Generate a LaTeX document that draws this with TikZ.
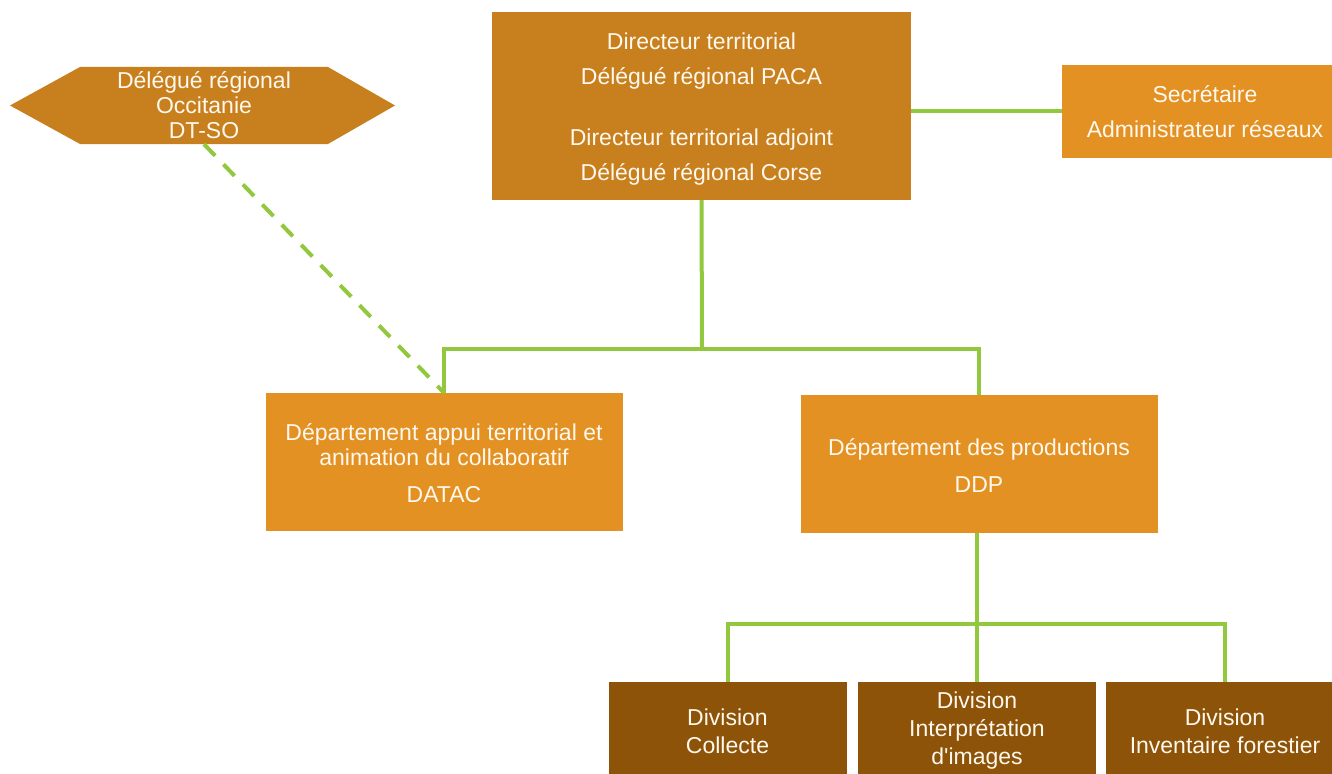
\documentclass[tikz,border=0pt]{standalone}
\usepackage{fontspec}
\setmainfont{Liberation Sans}
\usetikzlibrary{calc}
\definecolor{topbrown}{HTML}{C8801F}
\definecolor{deptorange}{HTML}{E39122}
\definecolor{divbrown}{HTML}{8D5308}
\definecolor{linkgreen}{HTML}{92C83E}
\definecolor{txtwhite}{HTML}{FFF8EE}
\tikzset{
  box/.style={rectangle, inner sep=0pt, align=center, text=txtwhite},
  dirbox/.style={box, fill=topbrown, minimum width=419pt, minimum height=188pt, font=\fontsize{23}{35}\selectfont},
  secbox/.style={box, fill=deptorange, minimum width=286pt, minimum height=93pt, font=\fontsize{23}{35}\selectfont},
  deptbox/.style={box, fill=deptorange, minimum width=357pt, minimum height=138pt},
  divbox/.style={box, fill=divbrown, minimum width=238pt, minimum height=98pt, font=\fontsize{23}{28}\selectfont},
  hexlabel/.style={box, minimum width=248pt, minimum height=77pt, font=\fontsize{23}{25}\selectfont},
  conn/.style={draw=linkgreen, line width=4pt},
  dashconn/.style={draw=linkgreen, line width=4pt, dash pattern=on 16pt off 12pt}
}
\begin{document}
\begin{tikzpicture}[x=1pt, y=-1pt]
\useasboundingbox (0,0) rectangle (1332,773);
\clip (0,0) rectangle (1332,773);
% hexagon
\fill[topbrown] (80,67) -- (328,67) -- (395,105.5) -- (328,144) -- (80,144) -- (10,105.5) -- cycle;
\node[hexlabel] (hex) at (204,105.5) {Délégué régional\\Occitanie\\DT-SO};
% main boxes
\node[dirbox] (dir) at (701.5,106) {\rule{0pt}{23pt}Directeur territorial\\Délégué régional PACA\\[26pt]Directeur territorial adjoint\\Délégué régional Corse};
\node[secbox] (sec) at (1205,111.5) {Secrétaire\\Administrateur réseaux};
\node[deptbox, font=\fontsize{23}{25}\selectfont] (datac) at (444,462) {\rule{0pt}{19pt}Département appui territorial et\\animation du collaboratif\\[12pt]DATAC};
\node[deptbox, font=\fontsize{23}{37}\selectfont] (ddp) at (979,464) {\rule{0pt}{19pt}Département des productions\\DDP};
\node[divbox] (d1) at (727.5,731) {Division\\Collecte};
\node[divbox] (d2) at (977,731) {Division\\Interprétation\\d\textquotesingle images};
\node[divbox] (d3) at (1225,731) {Division\\Inventaire forestier};
% connectors
\coordinate (bus1) at (702,349);
\coordinate (bus2) at (977,624);
\draw[conn] (sec.west) -- (sec.west -| dir.east);
\draw[conn] (dir.south) -- (bus1);
\draw[conn] (datac.north) -- (datac.north |- bus1) -- (ddp.north |- bus1) -- (ddp.north);
\draw[conn] (ddp.south -| bus2) -- (bus2);
\draw[conn] (d1.north) -- (d1.north |- bus2) -- (d3.north |- bus2) -- (d3.north);
\draw[conn] (bus2) -- (d2.north);
\draw[dashconn] (hex.south) -- (datac.north);
\end{tikzpicture}
\end{document}
